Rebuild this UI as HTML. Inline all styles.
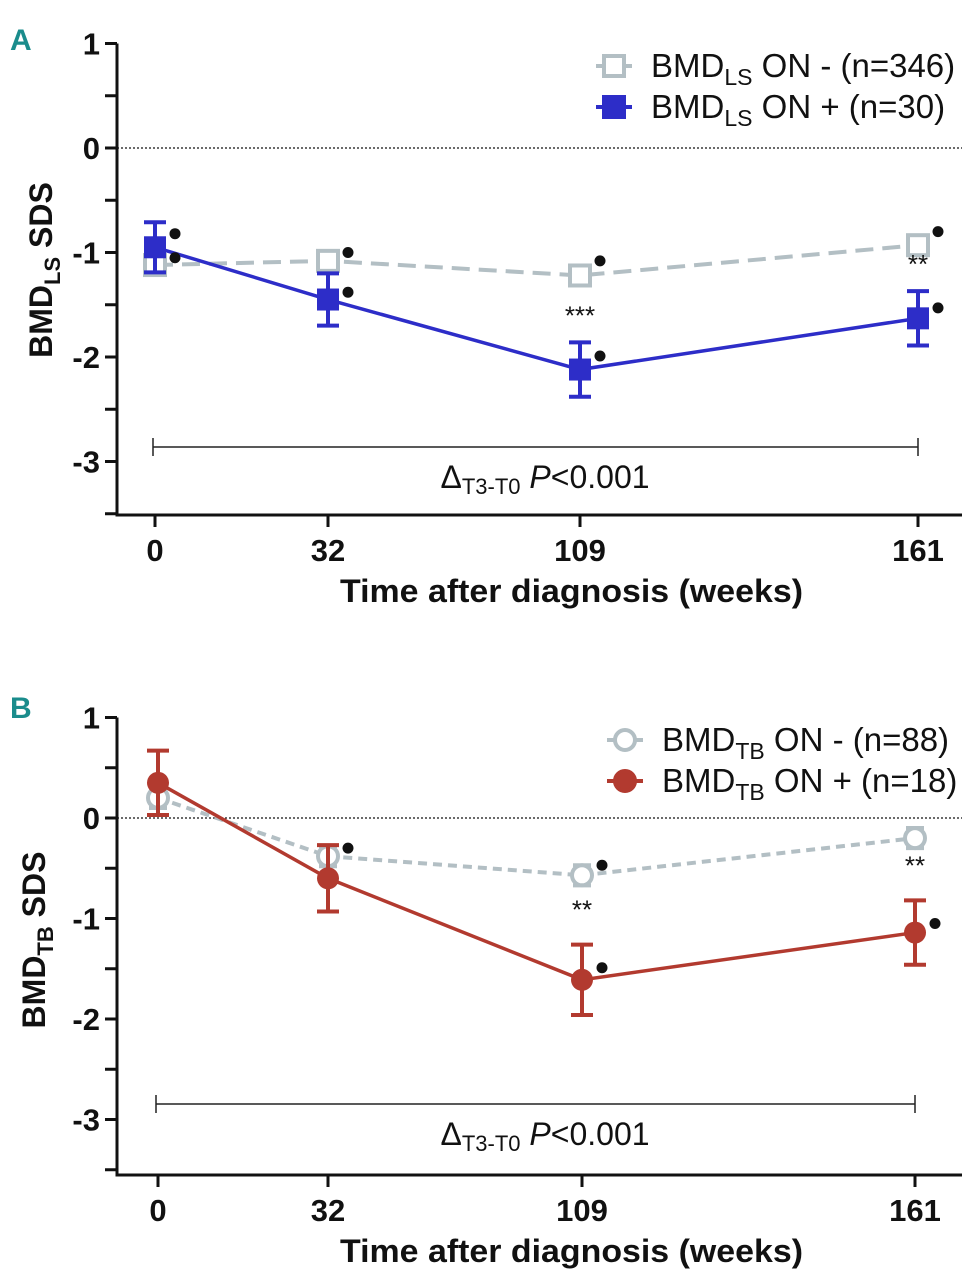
<!DOCTYPE html>
<html><head><meta charset="utf-8"><style>
html,body{margin:0;padding:0;background:#fff;}
svg{display:block;font-family:"Liberation Sans Narrow","Liberation Sans",sans-serif;}
</style></head><body>
<svg id="chart" width="980" height="1280" viewBox="0 0 980 1280"></svg>
<script>
const timeLabels = ["0","32","109","161"];
const aNeg = [-1.12,-1.08,-1.22,-0.93];
const aNegErr = [0.05,0.05,0.05,0.05];
const aPos = [-0.95,-1.45,-2.12,-1.63];
const aPosErr = [0.24,0.25,0.26,0.26];
const bNeg = [0.2,-0.38,-0.57,-0.2];
const bNegErr = [0.1,0.1,0.1,0.1];
const bPos = [0.35,-0.6,-1.61,-1.14];
const bPosErr = [0.32,0.33,0.35,0.32];
const aSig = ["","","***","**"];
const bSig = ["","","**","**"];
const yTicks = [1,0,-1,-2,-3];

const NS="http://www.w3.org/2000/svg";
const svg=document.getElementById('chart');
function mk(tag,attrs,parent){const e=document.createElementNS(NS,tag);for(const k in attrs)e.setAttribute(k,attrs[k]);(parent||svg).appendChild(e);return e;}

function panel(cfg){
  const g=mk('g',{});
  
  
  const y=v=>cfg.y0-v*cfg.ppu;
  const x=i=>cfg.xs[i];
  const L=mk('text',{x:10,y:cfg.letterY,'font-size':30,'font-weight':'bold',fill:'#1a8c8c'},g);
  L.textContent=cfg.letter;
  
  
  const ax=mk('path',{d:`M117,${y(1)} V${cfg.bottom} H962`,stroke:'#111','stroke-width':3,fill:'none'},g);
  
  
  for(let v=1;v>=-3.5;v-=0.5){
    mk('line',{x1:105,x2:117,y1:y(v),y2:y(v),stroke:'#111','stroke-width':3},g);
  }
  yTicks.forEach(v=>{
    const t=mk('text',{x:100,y:y(v)+11,'text-anchor':'end','font-size':31,'font-weight':'bold',fill:'#111'},g);
    t.textContent=v;
    
    
  });
  timeLabels.forEach((s,i)=>{
    mk('line',{x1:x(i),x2:x(i),y1:cfg.bottom,y2:cfg.bottom+12,stroke:'#111','stroke-width':3},g);
    const t=mk('text',{x:x(i),y:cfg.bottom+46,'text-anchor':'middle','font-size':31,'font-weight':'bold',fill:'#111'},g);
    t.textContent=s;
    
    
  });
  const xt=mk('text',{x:340,y:cfg.bottom+87,'font-size':32,'font-weight':'bold',fill:'#111',textLength:463,lengthAdjust:'spacingAndGlyphs'},g);
  xt.textContent='Time after diagnosis (weeks)';
  
  
  const yt=mk('text',{transform:`translate(${cfg.ytX},${cfg.ytY}) rotate(-90)`,'text-anchor':'middle','font-size':32,'font-weight':'bold',fill:'#111'},g);
  yt.innerHTML=`BMD<tspan font-size="22" dy="8">${cfg.sub}</tspan><tspan dy="-8"> SDS</tspan>`;
  
  
  const z=mk('line',{x1:117,x2:962,y1:y(0),y2:y(0),stroke:'#111','stroke-width':1.3,'stroke-dasharray':'2,2'},g);
  
  
  const pts=(arr)=>arr.map((v,i)=>`${x(i)},${y(v)}`).join(' ');
  const nl=mk('polyline',{points:pts(cfg.neg),fill:'none',stroke:'#b3bfc4','stroke-width':4,'stroke-dasharray':cfg.dash},g);
  
  
  cfg.neg.forEach((v,i)=>{
    const e=cfg.negErr[i];
    mk('path',{d:`M${x(i)},${y(v+e)}V${y(v-e)}M${x(i)-9},${y(v+e)}h18M${x(i)-9},${y(v-e)}h18`,stroke:'#b3bfc4','stroke-width':4,fill:'none'},g);
    let m;
    if(cfg.marker==='square') m=mk('rect',{x:x(i)-10,y:y(v)-10,width:20,height:20,fill:'#fff',stroke:'#b3bfc4','stroke-width':4},g);
    else m=mk('circle',{cx:x(i),cy:y(v),r:10,fill:'#fff',stroke:'#b3bfc4','stroke-width':4},g);
    
    
  });
  const pl=mk('polyline',{points:pts(cfg.pos),fill:'none',stroke:cfg.color,'stroke-width':3.5},g);
  
  
  cfg.pos.forEach((v,i)=>{
    const e=cfg.posErr[i];
    mk('path',{d:`M${x(i)},${y(v+e)}V${y(v-e)}M${x(i)-11},${y(v+e)}h22M${x(i)-11},${y(v-e)}h22`,stroke:cfg.color,'stroke-width':4,fill:'none'},g);
    let m;
    if(cfg.marker==='square') m=mk('rect',{x:x(i)-11,y:y(v)-11,width:22,height:22,fill:cfg.color},g);
    else m=mk('circle',{cx:x(i),cy:y(v),r:11,fill:cfg.color},g);
    
    
  });
  cfg.dots.forEach(([i,v])=>{
    const d=mk('circle',{cx:x(i)+20,cy:y(v),r:5.5,fill:'#111'},g);
    
    
  });
  cfg.sig.forEach((s,i)=>{
    if(!s)return;
    const t=mk('text',{x:x(i),y:y(cfg.pos[i]+cfg.posErr[i])-cfg.sigOff,'text-anchor':'middle','font-size':26,fill:'#111'},g);
    t.textContent=s;
    
    
  });
  const bx1=x(0)-2,bx2=x(3);
  const br=mk('path',{d:`M${bx1},${cfg.brY-9}v18M${bx1},${cfg.brY}H${bx2}M${bx2},${cfg.brY-9}v18`,stroke:'#222','stroke-width':1.5,fill:'none'},g);
  
  
  const bt=mk('text',{x:545,y:cfg.brY+41,'text-anchor':'middle','font-size':32,fill:'#111'},g);
  bt.innerHTML='Δ<tspan font-size="22" dy="6">T3-T0</tspan><tspan dy="-6" font-style="italic"> P</tspan>&lt;0.001';
  
  
  const lg=mk('g',{},g);
  
  
  cfg.legend.forEach((txt,k)=>{
    const ly=cfg.legY+k*41, lx=cfg.legX;
    const col=k===0?'#b3bfc4':cfg.color;
    mk('line',{x1:lx-18,x2:lx+18,y1:ly,y2:ly,stroke:col,'stroke-width':4},lg);
    if(cfg.marker==='square') mk('rect',{x:lx-10,y:ly-10,width:20,height:20,fill:k===0?'#fff':col,stroke:col,'stroke-width':4},lg);
    else mk('circle',{cx:lx,cy:ly,r:10,fill:k===0?'#fff':col,stroke:col,'stroke-width':4},lg);
    const t=mk('text',{x:lx+37,y:ly+11,'font-size':33,fill:'#111'},lg);
    t.innerHTML=`BMD<tspan font-size="23" dy="8">${cfg.sub}</tspan><tspan dy="-8"> ${txt}</tspan>`;
    
    
  });
}

panel({name:'panel-a',letter:'A',letterY:50,y0:148,ppu:104.5,bottom:515,xs:[155,328,580,918],
  neg:aNeg,negErr:aNegErr,pos:aPos,posErr:aPosErr,color:'#2d2dc8',marker:'square',dash:'18,9',
  dots:[[0,-0.82],[0,-1.05],[1,-1.0],[1,-1.38],[2,-1.08],[2,-1.99],[3,-0.8],[3,-1.53]],
  sig:aSig,sigOff:18,sub:'LS',ytX:52,ytY:270,brY:447,legX:614,legY:66,
  legend:['ON -  (n=346)','ON + (n=30)']});
panel({name:'panel-b',letter:'B',letterY:718,y0:818,ppu:100.5,bottom:1175,xs:[158,328,582,915],
  neg:bNeg,negErr:bNegErr,pos:bPos,posErr:bPosErr,color:'#b23a2f',marker:'circle',dash:'9,6',
  dots:[[1,-0.3],[2,-0.47],[2,-1.49],[3,-1.05]],
  sig:bSig,sigOff:26,sub:'TB',ytX:45,ytY:940,brY:1104,legX:625,legY:740,
  legend:['ON -  (n=88)','ON + (n=18)']});
</script>
</body></html>
